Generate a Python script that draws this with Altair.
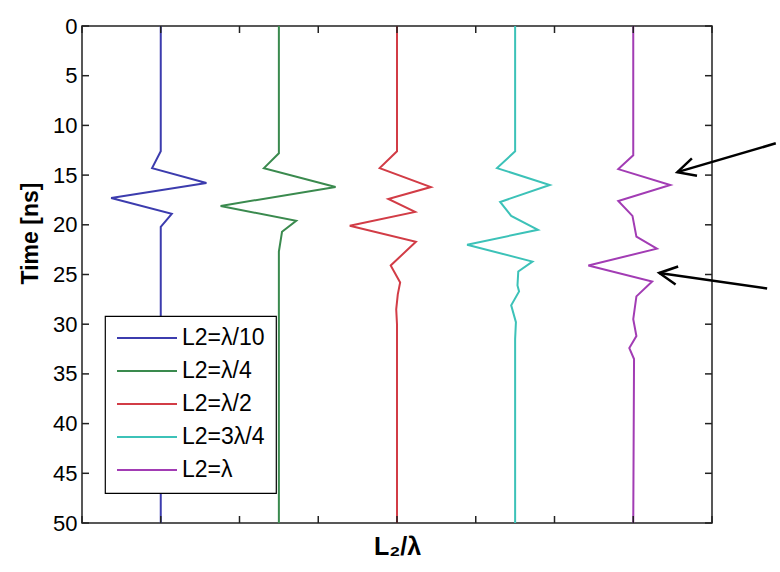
import math
import altair as alt
import pandas as pd

# Legend entries, colours and the horizontal position of each trace
labels = ["L2=λ/10", "L2=λ/4", "L2=λ/2", "L2=3λ/4", "L2=λ"]
colors = ["#3c3cae", "#3a8a4e", "#d23c46", "#3cc2b8", "#a23cb4"]
baselines = [1.0, 2.5, 4.0, 5.5, 7.0]

# Trace vertices: time [ns] and horizontal deflection from the trace baseline
t_blue = [0, 12.6, 14.3, 15.8, 17.3, 18.9, 20.2, 50]
a_blue = [0, 0, -0.11, 0.58, -0.63, 0.14, 0, 0]

t_green = [0, 12.8, 14.3, 16.2, 18.1, 19.6, 20.7, 22.7, 50]
a_green = [0, 0, -0.19, 0.72, -0.74, 0.22, 0.04, 0, 0]

t_red = [0, 12.6, 14.3, 16.2, 17.4, 18.7, 20.1, 21.7, 24.1, 25.8, 27.0, 28.5, 30.0, 50]
a_red = [0, 0, -0.22, 0.43, -0.11, 0.23, -0.60, 0.24, -0.08, 0.04, 0.01, -0.01, 0, 0]

t_cyan = [0, 12.6, 14.3, 16.0, 17.7, 19.1, 20.5, 22.0, 23.7, 24.7, 26.1, 26.7, 28.1, 29.8, 31.5, 50]
a_cyan = [0, 0, -0.23, 0.44, -0.19, -0.05, 0.29, -0.61, 0.22, 0.04, 0.03, 0.05, -0.05, 0.01, 0, 0]

t_purple = [0, 13.0, 14.4, 16.0, 17.6, 19.1, 21.2, 22.4, 24.1, 25.7, 27.2, 29.5, 31.2, 32.4, 33.5, 50]
a_purple = [0, 0, -0.19, 0.47, -0.19, -0.01, 0.04, 0.30, -0.57, 0.24, 0.04, 0, 0.04, -0.05, 0.01, 0]

times = [t_blue, t_green, t_red, t_cyan, t_purple]
amps = [a_blue, a_green, a_red, a_cyan, a_purple]

# Axis ticks
y_ticks = list(range(0, 51, 5))
x_ticks = list(range(0, 9))

# Annotation arrows (tail -> tip), in axis units
arrow_tail_x = [8.81, 8.70]
arrow_tail_t = [11.8, 26.4]
arrow_tip_x = [7.56, 7.33]
arrow_tip_t = [14.7, 24.85]

W, H = 630, 497
X_MAX, T_MAX = 8, 50
FONT = "Liberation Sans"

rows = []
for lab, base, ts, aa in zip(labels, baselines, times, amps):
    for t, a in zip(ts, aa):
        rows.append({"series": lab, "x": base + a, "t": t})
traces = pd.DataFrame(rows)

x_axis = alt.Axis(labels=False, ticks=False, domain=False, grid=False,
                  title="L₂/λ", titleFont=FONT, titleFontSize=25,
                  titleFontWeight="bold", titleColor="black", titlePadding=11)
y_axis = alt.Axis(values=y_ticks, ticks=False, domain=False, grid=False,
                  labelFont=FONT, labelFontSize=22, labelColor="black",
                  labelPadding=5, title="Time [ns]", titleFont=FONT,
                  titleFontSize=23, titleFontWeight="bold", titleColor="black",
                  titlePadding=10, titleY=207)
x_scale = alt.Scale(domain=[0, X_MAX], nice=False, zero=False)
y_scale = alt.Scale(domain=[0, T_MAX], reverse=True, nice=False, zero=False)

lines = alt.Chart(traces).mark_line(strokeWidth=2).encode(
    x=alt.X("x:Q", scale=x_scale, axis=x_axis),
    y=alt.Y("t:Q", scale=y_scale, axis=y_axis),
    color=alt.Color(
        "series:N",
        scale=alt.Scale(domain=labels, range=colors),
        legend=alt.Legend(
            orient="none", legendX=23, legendY=290, title=None,
            fillColor="white", strokeColor="black", padding=11,
            symbolType="stroke", symbolSize=3600, symbolStrokeWidth=2,
            labelFont=FONT, labelFontSize=23, labelColor="black",
            rowPadding=10, clipHeight=22, labelOffset=4, labelLimit=300,
        ),
    ),
    order="t:Q",
)

# Inward tick marks on all four sides of the box
tick_len_x = 7 * X_MAX / W
tick_len_t = 7 * T_MAX / H
tick_rows = []
for v in y_ticks:
    tick_rows.append({"x": 0, "x2": tick_len_x, "t": v, "t2": v})
    tick_rows.append({"x": X_MAX, "x2": X_MAX - tick_len_x, "t": v, "t2": v})
for v in x_ticks:
    tick_rows.append({"x": v, "x2": v, "t": T_MAX, "t2": T_MAX - tick_len_t})
    tick_rows.append({"x": v, "x2": v, "t": 0, "t2": tick_len_t})
ticks = alt.Chart(pd.DataFrame(tick_rows)).mark_rule(color="#222222", strokeWidth=1.5).encode(
    x=alt.X("x:Q", scale=x_scale, axis=x_axis), x2="x2:Q",
    y=alt.Y("t:Q", scale=y_scale, axis=y_axis), y2="t2:Q",
)

# Arrow shafts and open heads
sx, sy = W / X_MAX, H / T_MAX
head_len, head_ang = 20, math.radians(27)
arrow_rows = []
for i, (tx, tt, px, pt) in enumerate(zip(arrow_tail_x, arrow_tail_t, arrow_tip_x, arrow_tip_t)):
    ang = math.atan2((tt - pt) * sy, (tx - px) * sx)
    arrow_rows += [
        {"seg": f"s{i}", "k": 0, "x": tx, "t": tt},
        {"seg": f"s{i}", "k": 1, "x": px, "t": pt},
    ]
    w1 = (px + head_len * math.cos(ang - head_ang) / sx, pt + head_len * math.sin(ang - head_ang) / sy)
    w2 = (px + head_len * math.cos(ang + head_ang) / sx, pt + head_len * math.sin(ang + head_ang) / sy)
    arrow_rows += [
        {"seg": f"h{i}", "k": 0, "x": w1[0], "t": w1[1]},
        {"seg": f"h{i}", "k": 1, "x": px, "t": pt},
        {"seg": f"h{i}", "k": 2, "x": w2[0], "t": w2[1]},
    ]
arrows = alt.Chart(pd.DataFrame(arrow_rows)).mark_line(color="black", strokeWidth=2.5).encode(
    x=alt.X("x:Q", scale=x_scale, axis=x_axis),
    y=alt.Y("t:Q", scale=y_scale, axis=y_axis),
    detail="seg:N",
    order="k:Q",
)

chart = alt.layer(lines, ticks, arrows).properties(
    width=W, height=H,
    autosize=alt.AutoSizeParams(type="none"),
    padding={"left": 82, "top": 26, "right": 68, "bottom": 49},
    background="white",
).configure_view(stroke="#222222", strokeWidth=1.5).configure_legend(strokeWidth=1.2)

chart.save("out.html", embed_options={"renderer": "svg", "actions": False})
